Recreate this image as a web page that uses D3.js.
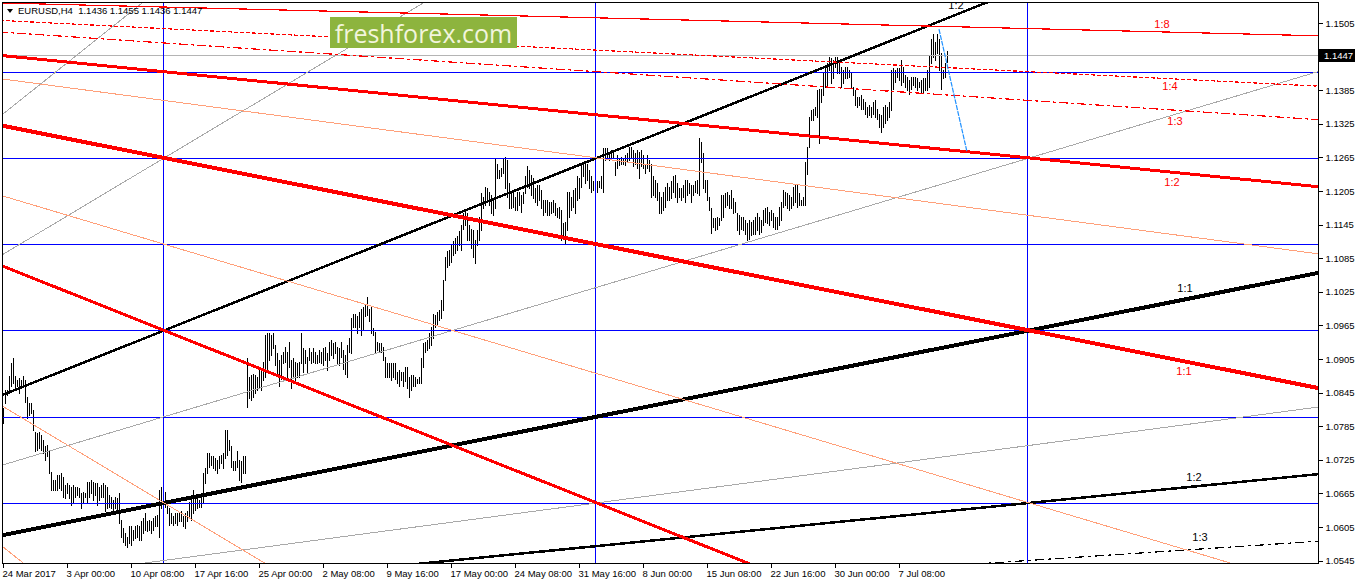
<!DOCTYPE html>
<html><head><meta charset="utf-8">
<script src="https://cdn.jsdelivr.net/npm/d3@7"></script>
<style>
html,body{margin:0;padding:0;background:#fff;}
svg{display:block;font-family:"Liberation Sans",Arial,sans-serif;}
</style></head><body>
<svg id="chart" width="1358" height="584"></svg>
<script>
// ---------------- DATA ----------------
const symbolTitle = "EURUSD,H4  1.1436 1.1455 1.1436 1.1447";
const timeLabels = ["24 Mar 2017","3 Apr 00:00","10 Apr 08:00","17 Apr 16:00","25 Apr 00:00","2 May 08:00","9 May 16:00","17 May 00:00","24 May 08:00","31 May 16:00","8 Jun 00:00","15 Jun 08:00","22 Jun 16:00","30 Jun 00:00","7 Jul 08:00"];
const timeLabelBars = [0,32,64,96,128,160,192,224,256,288,320,352,384,416,448];
const priceTicks = [1.1505,1.1445,1.1385,1.1325,1.1265,1.1205,1.1145,1.1085,1.1025,1.0965,1.0905,1.0845,1.0785,1.0725,1.0665,1.0605,1.0545];
const lastPrice = 1.1447;

const highs = [
1.0817,1.0850,1.0850,1.0874,1.0897,1.0906,1.0874,1.0868,1.0871,1.0868,
1.0874,1.0868,1.0838,1.0826,1.0826,1.0814,1.0775,1.0772,1.0775,1.0769,
1.0760,1.0749,1.0752,1.0743,1.0704,1.0689,1.0689,1.0698,1.0698,1.0701,
1.0695,1.0680,1.0683,1.0680,1.0677,1.0680,1.0677,1.0677,1.0674,1.0665,
1.0668,1.0665,1.0686,1.0686,1.0689,1.0686,1.0683,1.0683,1.0677,1.0680,
1.0683,1.0680,1.0677,1.0662,1.0659,1.0653,1.0659,1.0656,1.0665,1.0618,
1.0603,1.0594,1.0588,1.0606,1.0606,1.0600,1.0606,1.0609,1.0606,1.0615,
1.0621,1.0630,1.0615,1.0618,1.0615,1.0621,1.0624,1.0627,1.0671,1.0677,
1.0677,1.0668,1.0653,1.0639,1.0630,1.0624,1.0630,1.0630,1.0630,1.0633,
1.0624,1.0630,1.0633,1.0650,1.0653,1.0671,1.0656,1.0656,1.0653,1.0659,
1.0701,1.0710,1.0737,1.0737,1.0731,1.0731,1.0728,1.0725,1.0731,1.0734,
1.0737,1.0778,1.0778,1.0760,1.0749,1.0722,1.0722,1.0740,1.0725,1.0722,
1.0731,1.0731,1.0906,1.0873,1.0876,1.0879,1.0876,1.0873,1.0885,1.0885,
1.0900,1.0948,1.0951,1.0951,1.0948,1.0951,1.0930,1.0915,1.0903,1.0912,
1.0918,1.0927,1.0918,1.0936,1.0903,1.0906,1.0900,1.0897,1.0900,1.0951,
1.0924,1.0921,1.0909,1.0924,1.0918,1.0924,1.0918,1.0912,1.0921,1.0918,
1.0924,1.0927,1.0915,1.0936,1.0939,1.0933,1.0936,1.0927,1.0924,1.0936,
1.0921,1.0912,1.0930,1.0942,1.0978,1.0986,1.0986,1.0981,1.0989,1.0995,
1.0998,1.1001,1.1016,1.0995,1.0998,1.0960,1.0954,1.0936,1.0933,1.0933,
1.0927,1.0909,1.0897,1.0897,1.0897,1.0897,1.0897,1.0882,1.0885,1.0882,
1.0882,1.0891,1.0891,1.0873,1.0876,1.0876,1.0873,1.0870,1.0873,1.0906,
1.0933,1.0936,1.0939,1.0951,1.0963,1.0986,1.0984,1.0989,1.0992,1.1010,
1.1046,1.1088,1.1097,1.1100,1.1109,1.1115,1.1121,1.1124,1.1133,1.1144,
1.1165,1.1171,1.1165,1.1144,1.1138,1.1135,1.1118,1.1135,1.1159,1.1201,
1.1195,1.1213,1.1210,1.1204,1.1198,1.1192,1.1263,1.1254,1.1243,1.1246,
1.1263,1.1266,1.1260,1.1219,1.1201,1.1207,1.1195,1.1204,1.1204,1.1198,
1.1204,1.1231,1.1249,1.1243,1.1234,1.1228,1.1210,1.1216,1.1216,1.1207,
1.1189,1.1189,1.1189,1.1186,1.1186,1.1189,1.1183,1.1174,1.1177,1.1171,
1.1147,1.1150,1.1204,1.1204,1.1195,1.1207,1.1210,1.1231,1.1228,1.1252,
1.1254,1.1257,1.1254,1.1243,1.1231,1.1222,1.1228,1.1222,1.1222,1.1231,
1.1281,1.1281,1.1281,1.1275,1.1278,1.1278,1.1257,1.1269,1.1263,1.1266,
1.1263,1.1269,1.1272,1.1284,1.1284,1.1278,1.1272,1.1278,1.1275,1.1278,
1.1269,1.1254,1.1269,1.1260,1.1254,1.1231,1.1225,1.1219,1.1204,1.1195,
1.1204,1.1213,1.1219,1.1213,1.1222,1.1231,1.1234,1.1219,1.1210,1.1210,
1.1216,1.1225,1.1225,1.1219,1.1216,1.1216,1.1222,1.1225,1.1299,1.1293,
1.1272,1.1225,1.1225,1.1195,1.1174,1.1156,1.1156,1.1159,1.1156,1.1198,
1.1198,1.1201,1.1204,1.1198,1.1207,1.1192,1.1186,1.1165,1.1162,1.1159,
1.1159,1.1153,1.1147,1.1153,1.1150,1.1153,1.1159,1.1165,1.1159,1.1153,
1.1171,1.1174,1.1177,1.1168,1.1171,1.1165,1.1159,1.1159,1.1177,1.1186,
1.1207,1.1204,1.1201,1.1198,1.1195,1.1212,1.1218,1.1215,1.1201,1.1189,
1.1195,1.1257,1.1284,1.1337,1.1349,1.1352,1.1355,1.1385,1.1388,1.1388,
1.1415,1.1427,1.1433,1.1445,1.1442,1.1439,1.1445,1.1445,1.1439,1.1427,
1.1421,1.1427,1.1427,1.1421,1.1418,1.1391,1.1385,1.1373,1.1373,1.1376,
1.1370,1.1364,1.1355,1.1358,1.1355,1.1364,1.1367,1.1352,1.1343,1.1340,
1.1355,1.1358,1.1355,1.1364,1.1421,1.1424,1.1421,1.1424,1.1424,1.1439,
1.1427,1.1412,1.1409,1.1403,1.1409,1.1409,1.1409,1.1406,1.1400,1.1403,
1.1406,1.1406,1.1421,1.1448,1.1477,1.1486,1.1471,1.1486,1.1477,1.1451,
1.1421,1.1433,1.1455];

const lows = [
1.0790,1.0826,1.0841,1.0844,1.0856,1.0862,1.0850,1.0856,1.0844,1.0853,
1.0859,1.0829,1.0799,1.0805,1.0808,1.0778,1.0740,1.0743,1.0746,1.0743,
1.0737,1.0725,1.0731,1.0701,1.0671,1.0671,1.0671,1.0671,1.0674,1.0671,
1.0659,1.0656,1.0665,1.0656,1.0644,1.0647,1.0659,1.0662,1.0659,1.0639,
1.0647,1.0659,1.0650,1.0659,1.0665,1.0653,1.0662,1.0644,1.0653,1.0659,
1.0659,1.0633,1.0639,1.0641,1.0639,1.0636,1.0639,1.0636,1.0612,1.0588,
1.0579,1.0573,1.0570,1.0576,1.0573,1.0582,1.0585,1.0588,1.0582,1.0582,
1.0594,1.0600,1.0597,1.0600,1.0594,1.0600,1.0606,1.0606,1.0588,1.0639,
1.0653,1.0641,1.0630,1.0609,1.0612,1.0609,1.0612,1.0609,1.0615,1.0615,
1.0606,1.0603,1.0615,1.0621,1.0618,1.0630,1.0636,1.0639,1.0641,1.0641,
1.0647,1.0683,1.0701,1.0713,1.0716,1.0710,1.0707,1.0701,1.0710,1.0719,
1.0710,1.0728,1.0734,1.0743,1.0713,1.0707,1.0707,1.0713,1.0689,1.0686,
1.0701,1.0701,1.0820,1.0835,1.0832,1.0838,1.0844,1.0850,1.0853,1.0850,
1.0867,1.0873,1.0882,1.0903,1.0912,1.0924,1.0894,1.0879,1.0856,1.0870,
1.0897,1.0900,1.0867,1.0891,1.0853,1.0873,1.0867,1.0873,1.0873,1.0897,
1.0882,1.0897,1.0882,1.0903,1.0897,1.0900,1.0897,1.0897,1.0900,1.0897,
1.0894,1.0903,1.0885,1.0903,1.0912,1.0906,1.0915,1.0897,1.0894,1.0909,
1.0888,1.0879,1.0873,1.0918,1.0915,1.0963,1.0963,1.0951,1.0963,1.0948,
1.0957,1.0981,1.0984,1.0972,1.0951,1.0948,1.0915,1.0921,1.0918,1.0918,
1.0903,1.0873,1.0873,1.0873,1.0867,1.0873,1.0870,1.0862,1.0856,1.0867,
1.0856,1.0865,1.0853,1.0838,1.0850,1.0856,1.0856,1.0862,1.0862,1.0862,
1.0891,1.0918,1.0921,1.0924,1.0930,1.0942,1.0963,1.0966,1.0975,1.0978,
1.0992,1.1046,1.1070,1.1073,1.1079,1.1091,1.1094,1.1100,1.1109,1.1100,
1.1138,1.1144,1.1118,1.1118,1.1103,1.1088,1.1076,1.1109,1.1118,1.1135,
1.1174,1.1180,1.1186,1.1180,1.1165,1.1162,1.1174,1.1228,1.1228,1.1231,
1.1237,1.1210,1.1195,1.1174,1.1174,1.1177,1.1171,1.1171,1.1180,1.1168,
1.1183,1.1201,1.1213,1.1210,1.1198,1.1192,1.1186,1.1180,1.1189,1.1174,
1.1162,1.1168,1.1162,1.1162,1.1165,1.1168,1.1162,1.1159,1.1156,1.1118,
1.1124,1.1112,1.1135,1.1159,1.1171,1.1177,1.1165,1.1189,1.1192,1.1213,
1.1231,1.1219,1.1225,1.1210,1.1204,1.1207,1.1201,1.1204,1.1213,1.1210,
1.1204,1.1260,1.1263,1.1260,1.1266,1.1266,1.1234,1.1246,1.1252,1.1254,
1.1254,1.1252,1.1257,1.1260,1.1266,1.1249,1.1254,1.1246,1.1228,1.1249,
1.1246,1.1237,1.1246,1.1240,1.1195,1.1198,1.1195,1.1189,1.1165,1.1165,
1.1171,1.1177,1.1189,1.1189,1.1192,1.1204,1.1195,1.1186,1.1195,1.1189,
1.1195,1.1186,1.1198,1.1201,1.1186,1.1198,1.1204,1.1201,1.1198,1.1257,
1.1210,1.1204,1.1189,1.1171,1.1130,1.1141,1.1135,1.1138,1.1144,1.1153,
1.1159,1.1177,1.1180,1.1174,1.1174,1.1165,1.1168,1.1135,1.1129,1.1138,
1.1135,1.1129,1.1117,1.1120,1.1126,1.1129,1.1129,1.1135,1.1129,1.1132,
1.1144,1.1150,1.1147,1.1144,1.1153,1.1141,1.1138,1.1138,1.1144,1.1153,
1.1177,1.1180,1.1174,1.1171,1.1174,1.1180,1.1186,1.1177,1.1180,1.1180,
1.1180,1.1180,1.1236,1.1284,1.1331,1.1331,1.1340,1.1337,1.1290,1.1364,
1.1376,1.1391,1.1394,1.1421,1.1397,1.1406,1.1427,1.1415,1.1415,1.1391,
1.1397,1.1406,1.1406,1.1409,1.1391,1.1376,1.1358,1.1355,1.1358,1.1352,
1.1352,1.1343,1.1337,1.1340,1.1337,1.1343,1.1337,1.1334,1.1320,1.1311,
1.1320,1.1326,1.1331,1.1337,1.1349,1.1388,1.1400,1.1409,1.1403,1.1394,
1.1400,1.1391,1.1385,1.1379,1.1388,1.1394,1.1391,1.1385,1.1391,1.1382,
1.1382,1.1385,1.1385,1.1391,1.1433,1.1445,1.1439,1.1451,1.1421,1.1388,
1.1406,1.1409,1.1436];

// Gann grid / fan definitions (bar index, price)
const gridLevels = [1.1418,1.1264,1.1110,1.0956,1.0802,1.0648];
const gridBars = [80,296,512];
const fanOriginBar = -352;
const redFanOriginPrice = 1.1572;
const blackFanOriginPrice = 1.0340;
const fanUnit = 0.0000712;            // price per bar of the 1:1 line
const redFanRatios   = [1/8,1/4,1/3,1/2,2/3,1,3/2,2,3,4];
const blackFanRatios = [1/3,1/2,2/3,1,3/2,2,3,4];
const trendBars = [468,482];
const trendPrices = [1.1494,1.1275];
const watermark = "freshforex.com";

// ---------------- STYLES ----------------
const W = 1358, H = 584;
const L = 3, R = 1318, T = 3, B = 563;
const redStyle = {
  "0.125":{c:"#ff0000",w:1.2,d:null,lab:"1:8",lx:1162,ly:-4},
  "0.25":{c:"#ff0000",w:1.2,d:"4,2",lab:"1:4",lx:1170,ly:11},
  "0.333":{c:"#ff0000",w:1.2,d:"9,3,3,3",lab:"1:3",lx:1175,ly:15},
  "0.5":{c:"#ff0000",w:3,d:null,lab:"1:2",lx:1172,ly:14},
  "0.667":{c:"#ffa07a",w:1,d:null},
  "1":{c:"#ff0000",w:4,d:null,lab:"1:1",lx:1184,ly:14},
  "1.5":{c:"#ffa07a",w:1,d:null},
  "2":{c:"#ff0000",w:3,d:null},
  "3":{c:"#ffa07a",w:1,d:null},
  "4":{c:"#ffa07a",w:1,d:null}
};
const blackStyle = {
  "0.333":{c:"#000000",w:1.2,d:"9,4,3,4",lab:"1:3",lx:1200,ly:-8},
  "0.5":{c:"#000000",w:2.5,d:null,lab:"1:2",lx:1194,ly:-6},
  "0.667":{c:"#a9a9a9",w:1,d:null},
  "1":{c:"#000000",w:4,d:null,lab:"1:1",lx:1185,ly:-7},
  "1.5":{c:"#a9a9a9",w:1,d:null},
  "2":{c:"#000000",w:2.5,d:null,lab:"1:2",lx:956,ly:-6},
  "3":{c:"#a9a9a9",w:1,d:null},
  "4":{c:"#a9a9a9",w:1,d:null}
};
const key = r => String(+r.toFixed(3));

// ---------------- SCALES ----------------
const x = d3.scaleLinear().domain([0, 657.5]).range([L, R]);
const y = d3.scaleLinear().domain([1.0545, 1.1505]).range([560.6, 23]);

const svg = d3.select("#chart");
svg.append("rect").attr("width",W).attr("height",H).attr("fill","#fff");
svg.append("defs").append("clipPath").attr("id","plot")
  .append("rect").attr("x",L).attr("y",T).attr("width",R-L).attr("height",B-T);

const plot = svg.append("g").attr("clip-path","url(#plot)");
const line = d3.line().x(d=>x(d[0])).y(d=>y(d[1]));

// price bars
const bars = highs.map((h,i)=>({i, h, l: lows[i]}));
plot.append("g").selectAll("line").data(bars).join("line")
  .attr("x1",d=>Math.round(x(d.i))+0.5).attr("x2",d=>Math.round(x(d.i))+0.5)
  .attr("y1",d=>y(d.h)).attr("y2",d=>y(d.l)+1)
  .attr("stroke","#000").attr("stroke-width",1).attr("shape-rendering","crispEdges");

// current price line
plot.append("line").attr("x1",L).attr("x2",R)
  .attr("y1",Math.round(y(lastPrice))+0.5).attr("y2",Math.round(y(lastPrice))+0.5)
  .attr("stroke","#b4b4b4").attr("stroke-width",1).attr("shape-rendering","crispEdges");

// grid
plot.append("g").selectAll("line").data(gridLevels).join("line")
  .attr("x1",L).attr("x2",R)
  .attr("y1",d=>Math.round(y(d))+0.5).attr("y2",d=>Math.round(y(d))+0.5)
  .attr("stroke","#0000ff").attr("stroke-width",1).attr("shape-rendering","crispEdges");
plot.append("g").selectAll("line").data(gridBars).join("line")
  .attr("x1",d=>Math.round(x(d))+0.5).attr("x2",d=>Math.round(x(d))+0.5)
  .attr("y1",T).attr("y2",B)
  .attr("stroke","#0000ff").attr("stroke-width",1).attr("shape-rendering","crispEdges");

// fans
function fan(originPrice, dir, ratios, styles){
  const thin = ratios.filter(r=>styles[key(r)].w<=1.2);
  const thick = ratios.filter(r=>styles[key(r)].w>1.2);
  [...thin, ...thick].forEach(r=>{
    const s = styles[key(r)];
    const b1 = 760;
    const pts = [[fanOriginBar, originPrice],[b1, originPrice + dir*r*fanUnit*(b1-fanOriginBar)]];
    const p = plot.append("path").attr("d",line(pts)).attr("fill","none")
      .attr("stroke",s.c).attr("stroke-width",s.w).attr("shape-rendering","crispEdges");
    if (s.d) p.attr("stroke-dasharray",s.d);
  });
}
fan(blackFanOriginPrice, +1, blackFanRatios, blackStyle);
fan(redFanOriginPrice, -1, redFanRatios, redStyle);

// trend line
plot.append("path").attr("d",line(trendBars.map((b,i)=>[b,trendPrices[i]])))
  .attr("fill","none").attr("stroke","#1e90ff").attr("stroke-width",1.2)
  .attr("stroke-dasharray","5,1");

// fan labels
function fanLabels(originPrice, dir, ratios, styles, color){
  ratios.forEach(r=>{
    const s = styles[key(r)];
    if(!s.lab) return;
    const bar = x.invert(s.lx);
    const py = y(originPrice + dir*r*fanUnit*(bar-fanOriginBar));
    plot.append("text").attr("x",s.lx).attr("y",py+s.ly)
      .attr("text-anchor","middle").attr("font-size","11px").attr("fill",color).text(s.lab);
  });
}
fanLabels(redFanOriginPrice, -1, redFanRatios, redStyle, "#ff0000");
fanLabels(blackFanOriginPrice, +1, blackFanRatios, blackStyle, "#000");

// watermark
const wm = svg.append("g");
wm.append("rect").attr("x",330).attr("y",17).attr("width",187).attr("height",31).attr("fill","#8db43e");
wm.append("text").attr("x",423.5).attr("y",43).attr("text-anchor","middle")
  .attr("font-family","'Open Sans',sans-serif").attr("font-size","25px").attr("fill","#f2f5dc").text(watermark);

// frame
svg.append("rect").attr("x",2.5).attr("y",2.5).attr("width",R-2).attr("height",B-2)
  .attr("fill","none").attr("stroke","#000").attr("stroke-width",1).attr("shape-rendering","crispEdges");

// axes
const yAxis = d3.axisRight(y).tickValues(priceTicks).tickFormat(d3.format(".4f")).tickSize(4).tickPadding(3);
const gy = svg.append("g").attr("transform",`translate(${R+0.5},0)`).call(yAxis);
gy.select(".domain").remove();
gy.selectAll("text").attr("font-family","'Liberation Sans',Arial,sans-serif").attr("font-size","9.5px").attr("fill","#000");
gy.selectAll("line").attr("stroke","#000").attr("shape-rendering","crispEdges");

const xAxis = d3.axisBottom(x).tickValues(timeLabelBars).tickFormat((d,i)=>timeLabels[i]).tickSize(4).tickPadding(3);
const gx = svg.append("g").attr("transform",`translate(0,${B+0.5})`).call(xAxis);
gx.select(".domain").remove();
gx.selectAll("text").attr("text-anchor","start").attr("x",-1)
  .attr("font-family","'Liberation Sans',Arial,sans-serif").attr("font-size","9.5px").attr("fill","#000");
gx.selectAll("line").attr("stroke","#000").attr("shape-rendering","crispEdges");

// current price tag
const py0 = Math.round(y(lastPrice));
svg.append("rect").attr("x",R+1).attr("y",py0-6).attr("width",36).attr("height",13).attr("fill","#000");
svg.append("text").attr("x",R+6).attr("y",py0+0.5).attr("dy","0.35em")
  .attr("font-size","9.5px").attr("fill","#fff").text(d3.format(".4f")(lastPrice));

// title
svg.append("path").attr("d","M7,9 L13,9 L10,13 Z").attr("fill","#000");
svg.append("text").attr("x",18).attr("y",14).attr("font-size","9.5px").attr("fill","#000")
  .attr("xml:space","preserve").style("white-space","pre").text(symbolTitle);
</script>
</body></html>
